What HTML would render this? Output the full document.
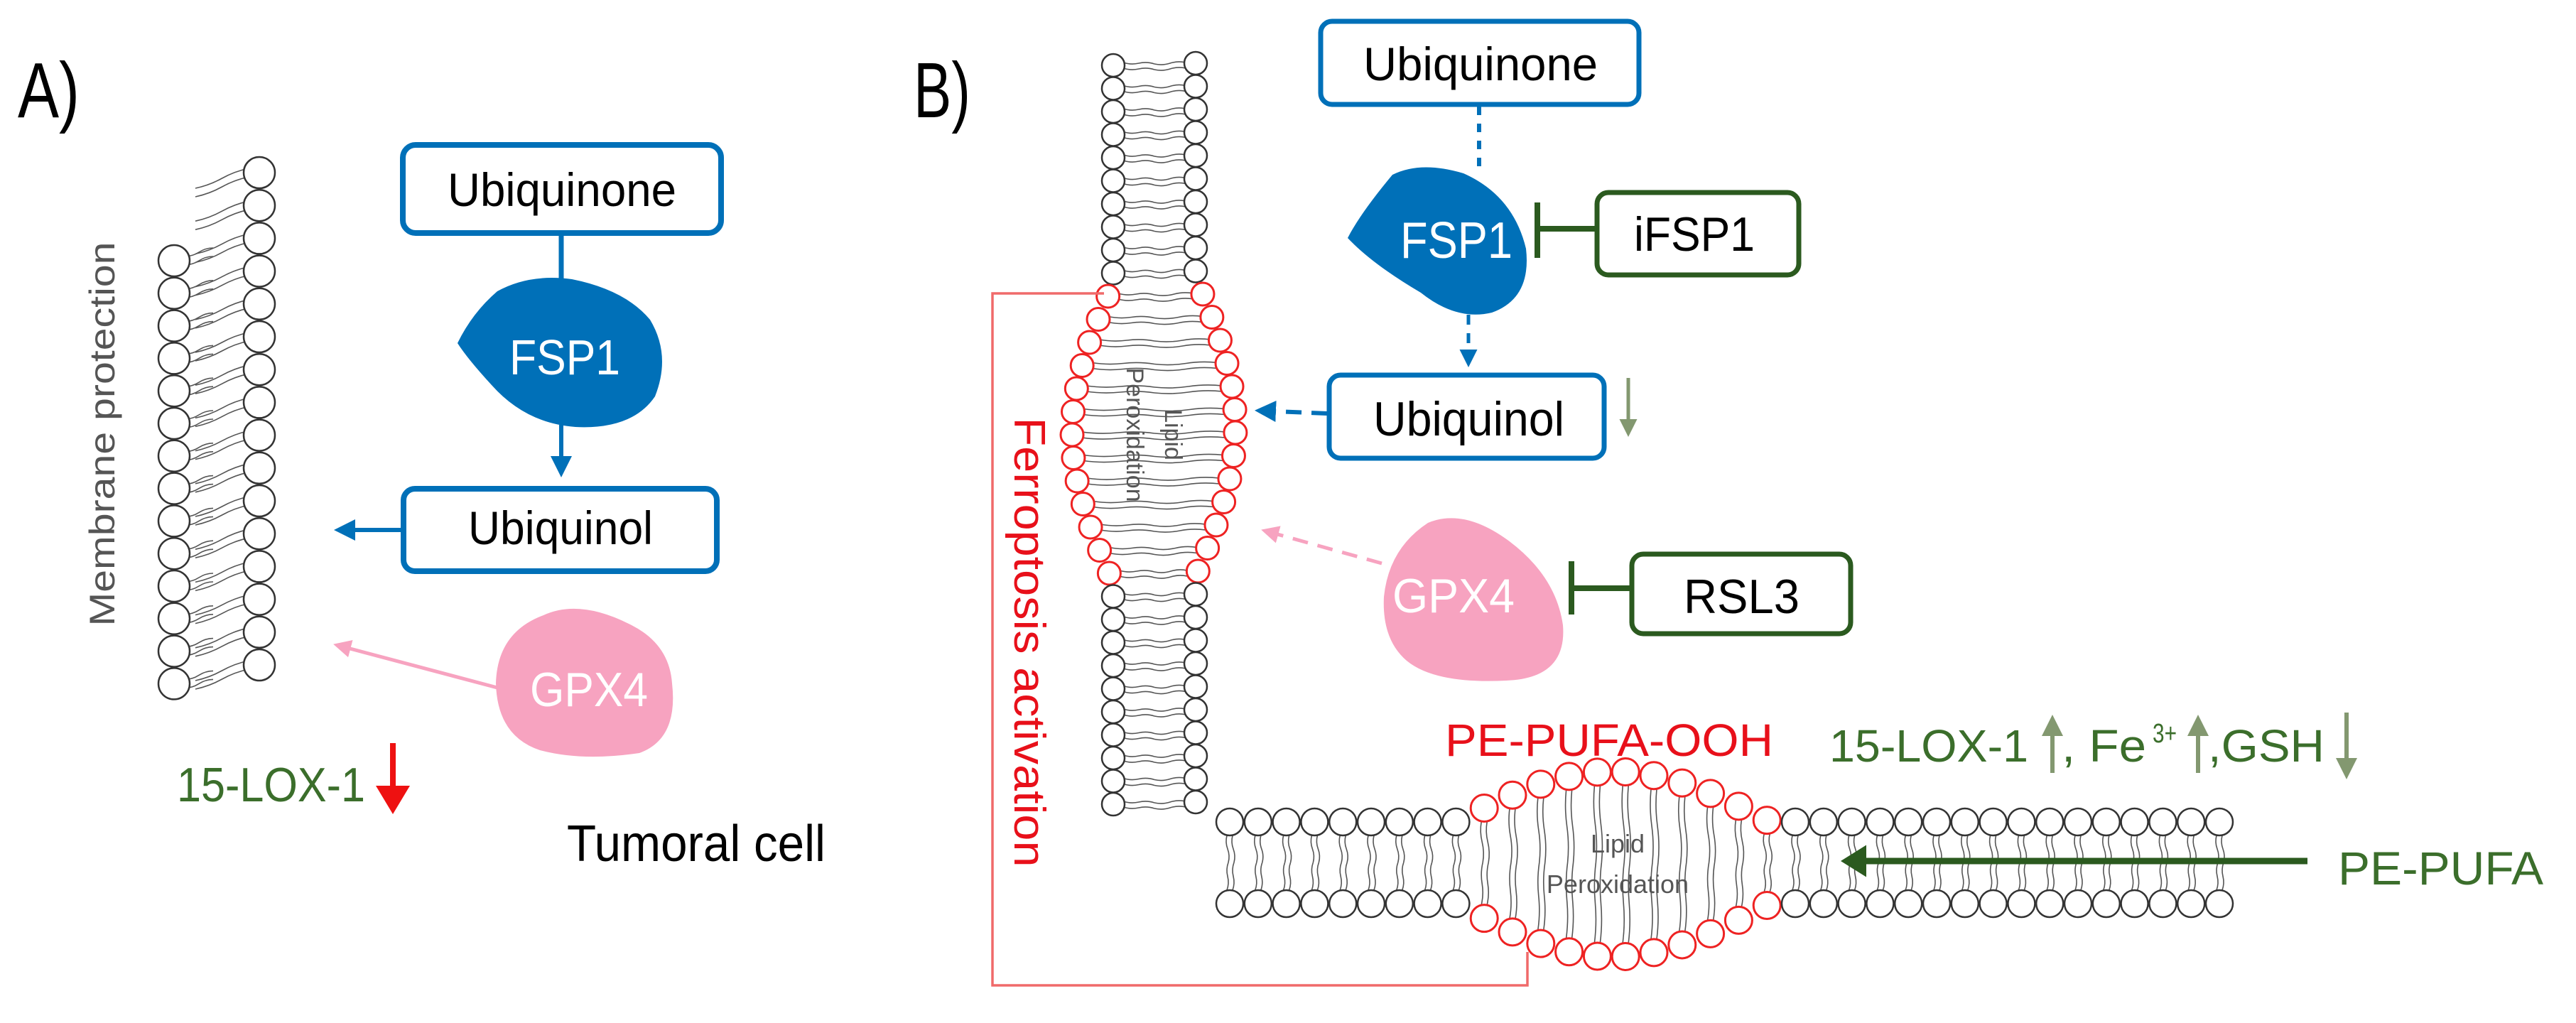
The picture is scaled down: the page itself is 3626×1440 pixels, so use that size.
<!DOCTYPE html>
<html><head><meta charset="utf-8"><style>
html,body{margin:0;padding:0;background:#fff;}
svg{display:block;}
text{font-family:"Liberation Sans",Arial,sans-serif;}
</style></head><body>
<svg id="s" width="3626" height="1440" viewBox="0 0 3626 1440" xmlns="http://www.w3.org/2000/svg">
<defs>
<marker id="ab" markerWidth="6" markerHeight="6" refX="4" refY="3" orient="auto" markerUnits="strokeWidth"><path d="M0,0.5 L5,3 L0,5.5 z" fill="#0070b8"/></marker>
<marker id="ap" markerWidth="6" markerHeight="6" refX="4" refY="3" orient="auto" markerUnits="strokeWidth"><path d="M0,0.5 L5,3 L0,5.5 z" fill="#f7a3c0"/></marker>
<marker id="ag" markerWidth="5" markerHeight="5" refX="3" refY="2.5" orient="auto" markerUnits="strokeWidth"><path d="M0,0 L4,2.5 L0,5 z" fill="#2b5a1f"/></marker>
<marker id="ar" markerWidth="6" markerHeight="6" refX="3" refY="3" orient="auto" markerUnits="strokeWidth"><path d="M0,0 L5,3 L0,6 z" fill="#ee1111"/></marker>
<marker id="agg" markerWidth="6" markerHeight="6" refX="3" refY="3" orient="auto" markerUnits="strokeWidth"><path d="M0,0.5 L5,3 L0,5.5 z" fill="#839870"/></marker>
</defs>
<g id="mem"></g>

<!-- Panel A -->
<text x="25" y="165" font-size="110" textLength="87" lengthAdjust="spacingAndGlyphs">A)</text>
<text transform="translate(161,611) rotate(-90)" text-anchor="middle" font-size="50" fill="#555" textLength="541" lengthAdjust="spacingAndGlyphs">Membrane protection</text>

<rect x="567" y="204" width="448" height="124" rx="18" fill="#fff" stroke="#0070b8" stroke-width="8"/>
<text x="630" y="290" font-size="66" textLength="322" lengthAdjust="spacingAndGlyphs">Ubiquinone</text>
<line x1="790" y1="332" x2="790" y2="395" stroke="#0070b8" stroke-width="7"/>
<path d="M700 410 Q745 385 805 393 Q880 408 915 450 Q945 500 922 558 Q890 605 810 601 Q740 596 692 542 Q658 505 644 483 Q665 440 700 410 Z" fill="#0070b8"/>
<text x="717" y="527" font-size="70" fill="#fff" textLength="156" lengthAdjust="spacingAndGlyphs">FSP1</text>
<line x1="790" y1="598" x2="790" y2="666" stroke="#0070b8" stroke-width="6" marker-end="url(#ab)"/>
<rect x="568" y="688" width="441" height="116" rx="16" fill="#fff" stroke="#0070b8" stroke-width="8"/>
<text x="659" y="766" font-size="66" textLength="260" lengthAdjust="spacingAndGlyphs">Ubiquinol</text>
<line x1="566" y1="746" x2="476" y2="746" stroke="#0070b8" stroke-width="6" marker-end="url(#ab)"/>
<path d="M765 866 Q815 843 885 878 Q942 905 946 962 Q955 1040 900 1060 Q820 1072 760 1056 Q700 1036 698 962 Q700 890 765 866 Z" fill="#f7a3c0"/>
<line x1="700" y1="968" x2="474" y2="908" stroke="#f7a3c0" stroke-width="5" marker-end="url(#ap)"/>
<text x="746" y="994" font-size="68" fill="#fff" textLength="166" lengthAdjust="spacingAndGlyphs">GPX4</text>
<text x="249" y="1128" font-size="68" fill="#3b6e2b" textLength="265" lengthAdjust="spacingAndGlyphs">15-LOX-1</text>
<line x1="553" y1="1046" x2="553" y2="1130" stroke="#ee1111" stroke-width="8" marker-end="url(#ar)"/>
<text x="798" y="1212" font-size="72" textLength="364" lengthAdjust="spacingAndGlyphs">Tumoral cell</text>

<!-- Panel B -->
<text x="1286" y="165" font-size="110" textLength="80" lengthAdjust="spacingAndGlyphs">B)</text>

<polyline points="1554,413 1397,413 1397,1387 2150,1387 2150,1340" fill="none" stroke="#f06a6a" stroke-width="3.5"/>
<text transform="translate(1428,904) rotate(90)" text-anchor="middle" font-size="62" fill="#e8101a" textLength="633" lengthAdjust="spacingAndGlyphs">Ferroptosis  activation</text>

<rect x="1859" y="30" width="448" height="117" rx="16" fill="#fff" stroke="#0070b8" stroke-width="7"/>
<text x="1919" y="113" font-size="66" textLength="330" lengthAdjust="spacingAndGlyphs">Ubiquinone</text>
<line x1="2082" y1="150" x2="2082" y2="235" stroke="#0070b8" stroke-width="6" stroke-dasharray="12,12"/>
<path d="M1960 246 Q2000 226 2060 244 Q2130 275 2148 350 Q2156 420 2100 440 Q2050 452 2000 412 Q1932 372 1897 335 Q1915 300 1960 246 Z" fill="#0070b8"/>
<text x="1971" y="363" font-size="72" fill="#fff" textLength="158" lengthAdjust="spacingAndGlyphs">FSP1</text>
<line x1="2164" y1="285" x2="2164" y2="363" stroke="#2b5a1f" stroke-width="8"/>
<line x1="2164" y1="322" x2="2247" y2="322" stroke="#2b5a1f" stroke-width="8"/>
<rect x="2248" y="271" width="284" height="116" rx="16" fill="#fff" stroke="#2b5a1f" stroke-width="7"/>
<text x="2300" y="353" font-size="68" textLength="170" lengthAdjust="spacingAndGlyphs">iFSP1</text>
<line x1="2067" y1="443" x2="2067" y2="512" stroke="#0070b8" stroke-width="5" stroke-dasharray="14,12" marker-end="url(#ab)"/>
<rect x="1871" y="528" width="387" height="117" rx="16" fill="#fff" stroke="#0070b8" stroke-width="7"/>
<text x="1933" y="613" font-size="68" textLength="269" lengthAdjust="spacingAndGlyphs">Ubiquinol</text>
<line x1="1868" y1="582" x2="1772" y2="578" stroke="#0070b8" stroke-width="6" stroke-dasharray="22,14" marker-end="url(#ab)"/>
<line x1="2292" y1="532" x2="2292" y2="605" stroke="#839870" stroke-width="5" marker-end="url(#agg)"/>
<path d="M2010 736 Q2060 715 2122 760 Q2190 810 2200 880 Q2206 955 2120 958 Q2020 963 1980 930 Q1945 900 1948 840 Q1955 772 2010 736 Z" fill="#f7a3c0"/>
<text x="1960" y="862" font-size="68" fill="#fff" textLength="172" lengthAdjust="spacingAndGlyphs">GPX4</text>
<line x1="1945" y1="793" x2="1780" y2="747" stroke="#f7a3c0" stroke-width="5" stroke-dasharray="22,14" marker-end="url(#ap)"/>
<line x1="2212" y1="790" x2="2212" y2="865" stroke="#2b5a1f" stroke-width="8"/>
<line x1="2212" y1="828" x2="2296" y2="828" stroke="#2b5a1f" stroke-width="8"/>
<rect x="2297" y="780" width="308" height="112" rx="16" fill="#fff" stroke="#2b5a1f" stroke-width="7"/>
<text x="2370" y="863" font-size="68" textLength="163" lengthAdjust="spacingAndGlyphs">RSL3</text>

<text x="2034" y="1064" font-size="64" fill="#e8101a" textLength="462" lengthAdjust="spacingAndGlyphs">PE-PUFA-OOH</text>
<text x="2575" y="1072" font-size="64" fill="#3b6e2b" textLength="280" lengthAdjust="spacingAndGlyphs">15-LOX-1</text>
<line x1="2889" y1="1088" x2="2889" y2="1018" stroke="#839870" stroke-width="6" marker-end="url(#agg)"/>
<text x="2902" y="1072" font-size="64" fill="#3b6e2b" textLength="119" lengthAdjust="spacingAndGlyphs">, Fe</text>
<text x="3030" y="1045" font-size="38" fill="#3b6e2b" textLength="34" lengthAdjust="spacingAndGlyphs">3+</text>
<line x1="3094" y1="1088" x2="3094" y2="1018" stroke="#839870" stroke-width="6" marker-end="url(#agg)"/>
<text x="3108" y="1072" font-size="64" fill="#3b6e2b" textLength="164" lengthAdjust="spacingAndGlyphs">,GSH</text>
<line x1="3303" y1="1003" x2="3303" y2="1085" stroke="#839870" stroke-width="6" marker-end="url(#agg)"/>
<g id="mem2"></g>
<line x1="3248" y1="1212" x2="2600" y2="1212" stroke="#2b5a1f" stroke-width="9" marker-end="url(#ag)"/>
<text x="3291" y="1245" font-size="66" fill="#3b6e2b" textLength="289" lengthAdjust="spacingAndGlyphs">PE-PUFA</text>
<text x="2277" y="1200" text-anchor="middle" font-size="36" fill="#555">Lipid</text>
<text x="2277" y="1257" text-anchor="middle" font-size="36" fill="#555">Peroxidation</text>
<text transform="translate(1640,612) rotate(90)" text-anchor="middle" font-size="34" fill="#555">Lipid</text>
<text transform="translate(1586,612) rotate(90)" text-anchor="middle" font-size="34" fill="#555">Peroxidation</text>
</svg>
<script>
(function(){
var NS="http://www.w3.org/2000/svg";
var g=document.getElementById("mem"), g2=document.getElementById("mem2");
function el(p,n,a){var e=document.createElementNS(NS,n);for(var k in a)e.setAttribute(k,a[k]);p.insertBefore(e,p.firstChild);return e;}
function circ(p,x,y,r,c){var e=document.createElementNS(NS,"circle");e.setAttribute("cx",x);e.setAttribute("cy",y);e.setAttribute("r",r);e.setAttribute("fill","#fff");e.setAttribute("stroke",c);e.setAttribute("stroke-width",c=="#333"?2.5:3);p.appendChild(e);}
function tail(p,x1,y1,x2,y2){var mx=(x1+x2)/2,my=(y1+y2)/2;var dx=x2-x1,dy=y2-y1,L=Math.sqrt(dx*dx+dy*dy)||1;var nx=-dy/L*3,ny=dx/L*3;
 el(p,"path",{d:"M"+x1+" "+y1+" Q"+((x1+mx)/2+nx)+" "+((y1+my)/2+ny)+" "+mx+" "+my+" T"+x2+" "+y2,fill:"none",stroke:"#555","stroke-width":1.6});}
// Membrane A
var i,y,x;
for(i=0;i<16;i++){y=243+i*46.2;tail(g,350,y-6,275,y+22);tail(g,350,y+6,275,y+34);}
for(i=0;i<14;i++){y=367+i*45.8;tail(g,260,y-6,300,y-18);tail(g,260,y+6,300,y-6);}
for(i=0;i<14;i++)circ(g,245,367+i*45.8,22,"#333");
for(i=0;i<16;i++)circ(g,365,243+i*46.2,22,"#333");
// Membrane B vertical
var N=33;
function off(y,a,b,m){if(y<a||y>b)return 0;return m*Math.sin(Math.PI*(y-a)/(b-a));}
for(i=0;i<N;i++){y=92+i*32.5;var xl=1567-off(y,400,820,58),xr=1683+off(y,390,812,56);
 tail(g,xl+14,y-4,1625,y-2);tail(g,xl+14,y+4,1625,y+6);tail(g,xr-14,y-4,1625,y-2);tail(g,xr-14,y+4,1625,y+6);}
for(i=0;i<N;i++){y=92+i*32.5;var o=off(y,400,820,58);circ(g,1567-o,y,16,(y>=400&&y<=820)?"#ee2222":"#333");}
for(i=0;i<N;i++){y=89+i*32.5;var o=off(y,390,812,56);circ(g,1683+o,y,16,(y>=390&&y<=812)?"#ee2222":"#333");}
// Membrane B horizontal
var M=36;
for(i=0;i<M;i++){x=1731+i*39.8;var ot=off(x,2050,2492,71),ob=off(x,2050,2492,75);
 tail(g2,x-4,1176-ot,x-2,1214);tail(g2,x+4,1176-ot,x+6,1214);tail(g2,x-4,1253+ob,x-2,1214);tail(g2,x+4,1253+ob,x+6,1214);}
for(i=0;i<M;i++){x=1731+i*39.8;var red=(x>=2050&&x<=2492);circ(g2,x,1157-off(x,2050,2492,71),19,red?"#ee2222":"#333");circ(g2,x,1272+off(x,2050,2492,75),19,red?"#ee2222":"#333");}
})();
</script>
</body></html>
